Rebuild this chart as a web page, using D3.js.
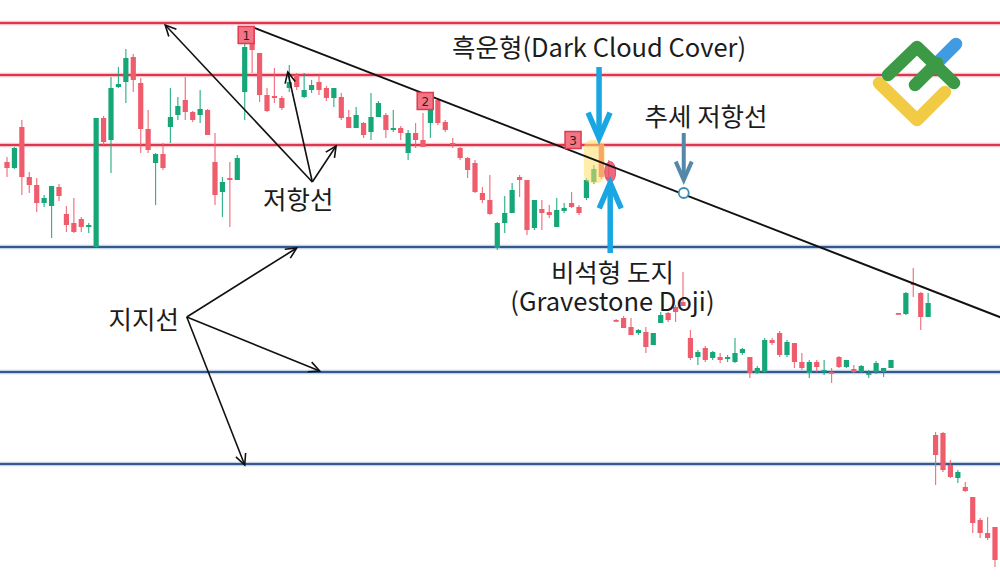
<!DOCTYPE html>
<html><head><meta charset="utf-8">
<script src="https://cdn.jsdelivr.net/npm/d3@7"></script>
<style>html,body{margin:0;padding:0;background:#fff;overflow:hidden}svg{display:block}</style>
</head><body><svg id="c" width="1000" height="580"></svg>
<script>
// ---- DATA (price units) ----
const openP  = [438,432,473,423,415,397,394,413,386,377,381,373,353,482,460,513,518,543,517,471,437,446,473,485,500,488,485,490,438,408,422,420,508,562,547,505,504,502,512,525,503,510,518,512,502,503,483,472,477,468,483,485,470,472,447,467,460,477,500,478,457,452,442,437,407,400,352,377,387,423,420,372,391,388,373,389,397,393,402,418,455,423,280,282,273,267,268,255,277,287,293,298,262,243,252,242,243,241,238,247,243,227,228,260,267,245,257,238,227,238,228,228,243,233,231,228,226,228,228,232,287,286,317,307,283,165,167,135,122,113,103,80,67,73];
const highP  = [443,453,480,428,422,405,414,416,394,402,383,377,482,484,523,533,551,546,522,490,447,457,512,503,523,489,510,491,467,423,438,445,567,570,547,512,532,504,535,527,527,520,525,514,512,507,490,493,478,507,499,487,490,474,470,477,487,503,502,480,462,453,443,440,413,425,378,404,417,425,420,400,400,395,402,397,408,395,422,435,457,440,281,284,282,271,273,267,288,288,295,328,270,250,254,249,247,245,262,252,243,234,262,262,269,260,257,247,240,240,240,232,244,240,235,235,230,239,232,240,287,308,332,308,307,168,168,140,130,118,103,82,83,73];
const lowP   = [423,431,405,407,388,393,362,399,368,367,368,367,352,455,427,512,497,508,447,447,395,430,457,480,480,478,477,465,395,383,373,420,480,527,498,488,497,490,508,510,502,507,505,499,493,480,472,472,462,460,483,462,468,460,440,452,453,462,475,468,452,440,422,407,397,385,350,367,387,403,365,370,370,382,373,387,392,385,400,416,421,420,278,272,265,265,247,255,277,278,278,294,240,235,238,240,237,238,237,245,222,226,227,255,243,243,232,230,222,228,225,217,232,232,227,227,222,226,223,232,286,285,303,270,283,115,128,122,117,108,67,62,60,33];
const closeP = [432,452,423,415,397,402,414,404,375,368,373,375,482,458,512,516,542,520,471,450,446,432,483,494,488,480,491,465,405,418,420,442,553,550,505,489,502,492,518,513,510,515,510,502,512,482,472,485,465,483,497,470,472,467,467,460,453,492,477,470,455,442,430,408,400,386,377,387,410,420,370,400,387,385,390,392,393,387,420,431,423,421,279,272,265,270,253,267,285,280,288,294,242,248,240,248,240,243,247,251,227,232,260,257,245,258,238,232,238,233,230,227,233,240,228,234,227,237,232,240,286,307,315,283,297,145,130,123,128,109,77,67,62,40];

const resistanceLevels = [577, 525, 455];
const supportLevels    = [353, 228, 136];
const trendAnchors     = [{i: 33, p: 573}, {i: 134, p: 282}];
const patternMarkers   = [{label: "1", i: 32.2, p: 565}, {label: "2", i: 56.3, p: 499}, {label: "3", i: 76.2, p: 460}];
const trendTouch       = {i: 91.1, p: 407};

const labels = [
  {lines: ["흑운형(Dark Cloud Cover)"], i: 79.7, p: 543},
  {lines: ["추세 저항선"], i: 94.1, p: 474},
  {lines: ["저항선"], i: 39.2, p: 391},
  {lines: ["비석형 도지", "(Gravestone Doji)"], i: 81.5, p: 318},
  {lines: ["지지선"], i: 18.4, p: 271}
];
const resistHub  = {i: 41.1, p: 418};
const resistTips = [{i: 21.3, p: 575}, {i: 37.8, p: 528}, {i: 44.3, p: 454}];
const supportHub  = {i: 24.2, p: 283};
const supportTips = [{i: 39.0, p: 352}, {i: 42.1, p: 229}, {i: 32.0, p: 135}];
const blueArrows = [
  {i: 79.7, from: 533, to: 462, color: "#18a7e2", w: 5.5, head: 11},
  {i: 81.2, from: 347, to: 417, color: "#18a7e2", w: 5.5, head: 11},
  {i: 91.1, from: 467, to: 420, color: "#5487a8", w: 4, head: 8}
];

// ---- SCALES ----
const W = 1000, H = 580;
const x = d3.scaleLinear().domain([0, 133]).range([7, 995]);
const y = d3.scaleLinear().domain([20, 600]).range([580, 0]);
const svg = d3.select("#c");
svg.append("rect").attr("width", W).attr("height", H).attr("fill", "#fff");

const candles = openP.map((o, i) => ({i, o, h: highP[i], l: lowP[i], c: closeP[i]}));
const RED = "#ef5d6d", GREEN = "#15a777";

// horizontal levels
function level(p, core, halo) {
  svg.append("line").attr("x1", 0).attr("x2", W).attr("y1", y(p)).attr("y2", y(p))
    .attr("stroke", halo).attr("stroke-width", 4.5);
  svg.append("line").attr("x1", 0).attr("x2", W).attr("y1", y(p)).attr("y2", y(p))
    .attr("stroke", core).attr("stroke-width", 1.8);
}
resistanceLevels.forEach(p => level(p, "#e0364d", "#f8c4cc"));
supportLevels.forEach(p => level(p, "#35598a", "#c3d3e6"));

// candles
const g = svg.append("g");
g.selectAll("line.w").data(candles).join("line").attr("class", "w")
  .attr("x1", d => x(d.i)).attr("x2", d => x(d.i))
  .attr("y1", d => y(d.h)).attr("y2", d => y(d.l))
  .attr("stroke", d => d.c >= d.o ? GREEN : RED).attr("stroke-width", 1.2).attr("opacity", 0.85);
g.selectAll("rect.b").data(candles).join("rect").attr("class", "b")
  .attr("x", d => x(d.i) - 2.6).attr("width", 5.2)
  .attr("y", d => y(Math.max(d.o, d.c)))
  .attr("height", d => Math.max(1.8, Math.abs(y(d.o) - y(d.c))))
  .attr("fill", d => d.c >= d.o ? GREEN : RED);

// dark cloud cover highlight
svg.append("rect").attr("x", x(79) - 10).attr("y", y(460)).attr("width", 21).attr("height", y(417) - y(460))
  .attr("rx", 8).attr("fill", "#ffe066").attr("opacity", 0.55);
// gravestone doji ellipse
svg.append("ellipse").attr("cx", x(81.2)).attr("cy", y(428)).attr("rx", 5.5).attr("ry", 10.5)
  .attr("fill", "#ea4f67").attr("opacity", 0.85).attr("stroke", "#d63550").attr("stroke-width", 1);

// trend line
svg.append("line").attr("x1", x(trendAnchors[0].i)).attr("y1", y(trendAnchors[0].p))
  .attr("x2", x(trendAnchors[1].i)).attr("y2", y(trendAnchors[1].p))
  .attr("stroke", "#111").attr("stroke-width", 2);

// markers 1 2 3
const mk = svg.append("g").selectAll("g").data(patternMarkers).join("g")
  .attr("transform", d => `translate(${x(d.i)},${y(d.p)})`);
mk.append("rect").attr("x", -8).attr("y", -8.5).attr("width", 16).attr("height", 17)
  .attr("fill", "#f27585").attr("stroke", "#df3a50").attr("stroke-width", 1.5);
mk.append("text").text(d => d.label).attr("text-anchor", "middle").attr("y", 4.5)
  .attr("font-family", "DejaVu Sans, sans-serif").attr("font-size", 12).attr("fill", "#3a1a1e");

// trend touch circle
svg.append("circle").attr("cx", x(trendTouch.i)).attr("cy", y(trendTouch.p)).attr("r", 5)
  .attr("fill", "#fff").attr("stroke", "#3a8fb4").attr("stroke-width", 1.8);

// black arrows
function arrow(a, b, color, w, head) {
  const x1 = x(a.i), y1 = y(a.p), x2 = x(b.i), y2 = y(b.p);
  const ang = Math.atan2(y2 - y1, x2 - x1), sp = 0.45;
  svg.append("line").attr("x1", x1).attr("y1", y1).attr("x2", x2).attr("y2", y2)
    .attr("stroke", color).attr("stroke-width", w);
  const p1 = [x2 - head * Math.cos(ang - sp), y2 - head * Math.sin(ang - sp)];
  const p2 = [x2 - head * Math.cos(ang + sp), y2 - head * Math.sin(ang + sp)];
  svg.append("path").attr("d", `M${p1}L${x2},${y2}L${p2}`).attr("fill", "none")
    .attr("stroke", color).attr("stroke-width", w).attr("stroke-linejoin", "miter");
}
resistTips.forEach(t => arrow(resistHub, t, "#111", 1.6, 12));
supportTips.forEach(t => arrow(supportHub, t, "#111", 1.6, 12));

// blue vertical arrows
blueArrows.forEach(a => {
  const cx = x(a.i), y1 = y(a.from), y2 = y(a.to), dir = y2 > y1 ? 1 : -1;
  svg.append("line").attr("x1", cx).attr("x2", cx).attr("y1", y1).attr("y2", y2 - dir * 2)
    .attr("stroke", a.color).attr("stroke-width", a.w);
  svg.append("path").attr("d", `M${cx - a.head},${y2 - dir * a.head * 2.3}L${cx},${y2}L${cx + a.head},${y2 - dir * a.head * 2.3}`)
    .attr("fill", "none").attr("stroke", a.color).attr("stroke-width", a.w).attr("stroke-linejoin", "miter");
});

// labels
const lab = svg.append("g").selectAll("text").data(labels).join("text")
  .attr("x", d => x(d.i)).attr("y", d => y(d.p)).attr("text-anchor", "middle")
  .attr("font-family", "'Noto Sans CJK KR', 'Noto Sans', sans-serif").attr("font-size", 25.5)
  .attr("fill", "#1c1c1c");
lab.selectAll("tspan").data(d => d.lines.map((t, k) => ({t, k, x: x(d.i)}))).join("tspan")
  .attr("x", d => d.x).attr("dy", d => d.k === 0 ? 0 : 29).text(d => d.t);

// logo
const logo = svg.append("g").attr("fill", "none").attr("stroke-linecap", "round").attr("stroke-linejoin", "round").attr("stroke-width", 12.5);
logo.append("path").attr("d", "M879,83L917,120L945,92").attr("stroke", "#f2cb45");
logo.append("path").attr("d", "M938,62L956,44").attr("stroke", "#3f9ce2");
logo.append("path").attr("d", "M888,75L917,47L954,83").attr("stroke", "#3c9a47");
logo.append("path").attr("d", "M915,85L937,63").attr("stroke", "#3c9a47");
</script></body></html>
